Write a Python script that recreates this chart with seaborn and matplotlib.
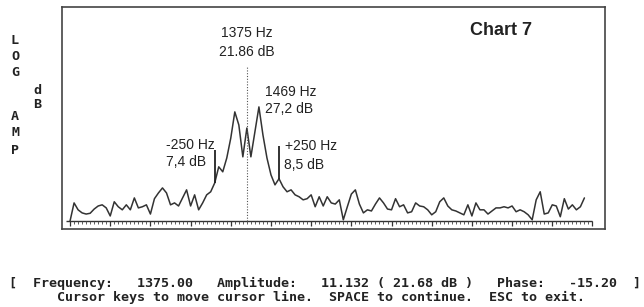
import numpy as np
import pandas as pd
import matplotlib
matplotlib.use("Agg")
import matplotlib.pyplot as plt
import seaborn as sns

# FFT bins (31.25 Hz each) and log amplitude in dB
bins = list(range(129))
amp_db = [
    -2.5, 2.2, 0.4, -0.4, -0.7, -0.5, 0.6, 1.4, 1.7, 0.9,
    -1.2, 2.5, 1.2, 0.4, 1.7, 0.4, 3.5, 0.9, 1.2, 1.7,
    -0.7, 3.3, 4.8, 6.1, 4.8, 1.7, 2.2, 1.4, 3.5, 5.6,
    1.4, 4.3, 0.4, 2.2, 4.3, 5.1, 7.4, 11.6, 10.3, 13.9,
    19.1, 25.9, 22.5, 14.2, 21.7, 14.2, 20.7, 27.2, 19.9, 13.9,
    9.5, 6.9, 8.5, 6.4, 5.1, 5.6, 4.3, 3.8, 3.0, 3.3,
    4.3, 1.2, 3.8, 1.4, 3.8, 2.2, 1.9, 3.0, -2.2, 1.2,
    4.5, 5.6, 1.9, -0.4, 0.4, 0.1, 1.9, 3.5, 2.2, 0.6,
    0.4, 3.3, 1.2, 1.7, -0.4, -0.1, 2.2, 1.4, 1.2, 0.4,
    -0.9, -0.1, 2.5, 3.5, 1.4, 0.4, 0.1, -0.4, -0.9, 1.7,
    -1.2, 2.2, 0.4, 0.4, -0.7, 0.1, 0.9, 0.9, 1.2, 0.9,
    1.4, -0.1, 0.4, -0.1, -0.9, -2.2, 3.0, 5.1, -0.7, -0.4,
    1.7, 1.4, -1.4, 3.3, 0.6, 1.7, 0.4, 1.2, 3.5,
]

cursor_bin = 44          # 1375 Hz
cursor_top = 37.6
markers = [36, 52]       # -250 Hz / +250 Hz
marker_db = [7.4, 8.5]
base_db = -2.5

df = pd.DataFrame({"bin": bins, "amp": amp_db})

sns.set_style("white")
plt.rcParams["font.family"] = ["Liberation Sans", "DejaVu Sans"]

fig = plt.figure(figsize=(6.44, 3.07), dpi=100)
ax = fig.add_axes([0.0963, 0.254, 0.843, 0.723])

ink = "#222222"
sns.lineplot(data=df, x="bin", y="amp", ax=ax, color="#333333", lw=1.1)

# ruler baseline with a tick per bin
ax.hlines(base_db, -1, 130, color="#333333", lw=1.0)
tick_x = np.arange(0, 131)
ax.vlines(tick_x, base_db - 0.8, base_db, color="#444444", lw=0.6)
ax.vlines(tick_x[::10], base_db - 1.4, base_db, color="#333333", lw=0.9)

# cursor line and side markers
ax.vlines(cursor_bin, base_db, cursor_top, color="#555555", lw=0.8, linestyles=(0, (1, 1.5)))
for b, v in zip(markers, marker_db):
    ax.vlines(b, v, v + 8.5, color="#222222", lw=1.3)

ax.set_xlim(-2, 133.1)
ax.set_ylim(-4.6, 53.2)
ax.set_xticks([])
ax.set_yticks([])
ax.set_xlabel("")
ax.set_ylabel("")
for s in ax.spines.values():
    s.set_visible(True)
    s.set_color("#444444")
    s.set_linewidth(1.2)

lab = dict(fontsize=10, color=ink, va="center")
ax.text(cursor_bin, 46.5, "1375 Hz", ha="center", **lab)
ax.text(cursor_bin, 41.5, "21.86 dB", ha="center", **lab)
ax.text(48.5, 31.1, "1469 Hz", ha="left", **lab)
ax.text(48.5, 26.7, "27,2 dB", ha="left", **lab)
ax.text(23.9, 17.3, "-250 Hz", ha="left", **lab)
ax.text(23.9, 12.9, "7,4 dB", ha="left", **lab)
ax.text(53.5, 17.0, "+250 Hz", ha="left", **lab)
ax.text(53.3, 12.1, "8,5 dB", ha="left", **lab)
ax.text(99.5, 47.2, "Chart 7", ha="left", fontsize=13, fontweight="bold", **{k: v for k, v in lab.items() if k != "fontsize"})

mono = dict(family="DejaVu Sans Mono", fontweight="bold", fontsize=9.6, color=ink, va="center")
for ch, xp, yp in [("L", 15, 40), ("O", 15, 57), ("G", 15, 73),
                   ("d", 37, 90), ("B", 37, 105),
                   ("A", 15, 117), ("M", 15, 133), ("P", 15, 150)]:
    fig.text(xp / 644, 1 - yp / 307, ch, ha="center", **mono)

line1 = "[  Frequency:   1375.00   Amplitude:   11.132 ( 21.68 dB )   Phase:   -15.20  ]"
line2 = "      Cursor keys to move cursor line.  SPACE to continue.  ESC to exit."
fig.text(9 / 644, 1 - 283 / 307, line1, ha="left", **mono)
fig.text(9 / 644, 1 - 297 / 307, line2, ha="left", **mono)

fig.savefig("out.png", dpi=100, facecolor="white")
